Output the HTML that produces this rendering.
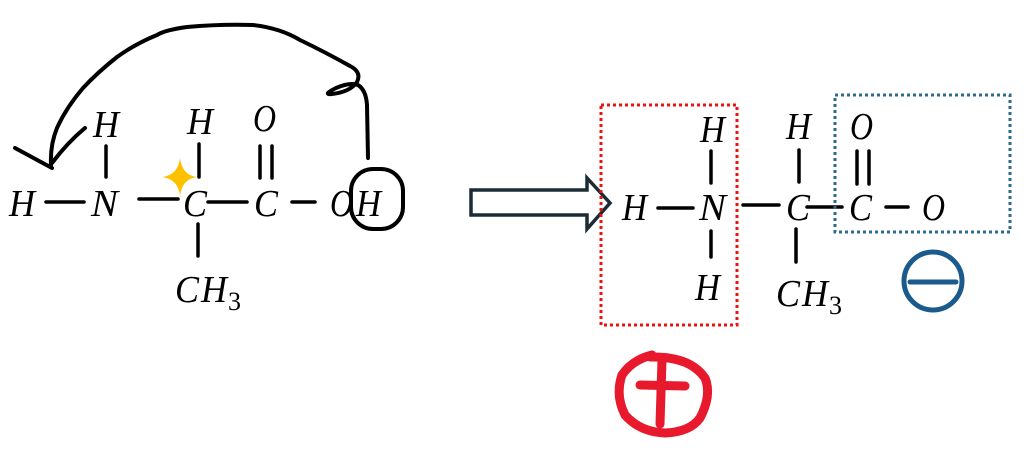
<!DOCTYPE html>
<html><head><style>
html,body{margin:0;padding:0;background:#fff;}
svg{display:block}
text{font-family:"Liberation Serif",serif;font-style:italic;font-size:38px;fill:#000}
</style></head><body>
<svg width="1024" height="451" viewBox="0 0 1024 451" xmlns="http://www.w3.org/2000/svg">
<g stroke="#000" stroke-width="3.5" fill="none" stroke-linecap="round" stroke-linejoin="round">
<line x1="46" y1="202" x2="84" y2="202"/>
<line x1="106" y1="146" x2="106" y2="177"/>
<line x1="139" y1="199" x2="178" y2="199"/>
<line x1="199" y1="144" x2="199" y2="177"/>
<line x1="208" y1="202" x2="247" y2="202"/>
<line x1="260" y1="146" x2="260" y2="178"/>
<line x1="272" y1="146" x2="272" y2="178"/>
<line x1="292" y1="202" x2="315" y2="202"/>
<line x1="198" y1="224" x2="198" y2="256"/>
<line x1="658" y1="208" x2="693" y2="208"/>
<line x1="711" y1="151" x2="711" y2="183"/>
<line x1="711" y1="231" x2="711" y2="257"/>
<line x1="743" y1="205" x2="779" y2="205"/>
<line x1="807" y1="207" x2="842" y2="207"/>
<line x1="799" y1="150" x2="799" y2="182"/>
<line x1="857" y1="151" x2="857" y2="184"/>
<line x1="869" y1="151" x2="869" y2="184"/>
<line x1="886" y1="207" x2="908" y2="207"/>
<line x1="796" y1="229" x2="796" y2="262"/>
</g>
<text x="9" y="216" textLength="26" lengthAdjust="spacingAndGlyphs">H</text>
<text x="91" y="216" textLength="27" lengthAdjust="spacingAndGlyphs">N</text>
<text x="183" y="216" textLength="24" lengthAdjust="spacingAndGlyphs">C</text>
<text x="254" y="216" textLength="24" lengthAdjust="spacingAndGlyphs">C</text>
<text x="330" y="216" textLength="23" lengthAdjust="spacingAndGlyphs">O</text>
<text x="356" y="216" textLength="25" lengthAdjust="spacingAndGlyphs">H</text>
<text x="93" y="137" textLength="26" lengthAdjust="spacingAndGlyphs">H</text>
<text x="187" y="134" textLength="26" lengthAdjust="spacingAndGlyphs">H</text>
<text x="253" y="131" textLength="23" lengthAdjust="spacingAndGlyphs">O</text>
<text x="175" y="302" textLength="24" lengthAdjust="spacingAndGlyphs">C</text><text x="201" y="302" textLength="26" lengthAdjust="spacingAndGlyphs">H</text><text x="228" y="310" style="font-size:26px;font-style:normal">3</text>
<path d="M180,158 Q182,175 197,177 Q182,179 180,196 Q178,179 162,177 Q178,175 180,158Z" fill="#ffc000"/>
<g stroke="#000" stroke-width="4" fill="none" stroke-linecap="round" stroke-linejoin="round">
<rect x="351" y="169" width="52" height="60" rx="22"/>
<path d="M368,158 L367,105 Q366,90 358,85 Q350,82 336,88 Q322,95 332,94 Q350,92 357,82 Q362,72 350,66 Q325,52 300,40 Q280,28 253,25 Q220,24 187,27 Q165,30 157,35 Q135,44 117,57 Q98,72 83,88 Q66,108 57,128 Q50,145 51,165"/>
<path d="M15,148 L52,168 M52,163 Q68,142 85,128"/>
</g>
<path d="M471,190 L587,190 L587,178 L610,203 L587,229 L587,215 L471,215Z" fill="#fff" stroke="#1c2b36" stroke-width="3.5"/>
<rect x="601" y="105" width="136" height="220" fill="none" stroke="#f01010" stroke-width="3" stroke-dasharray="3,3"/>
<rect x="835" y="95" width="175" height="137" fill="none" stroke="#2e6b8a" stroke-width="3" stroke-dasharray="3,3"/>
<text x="622" y="220" textLength="25" lengthAdjust="spacingAndGlyphs">H</text>
<text x="699" y="220" textLength="27" lengthAdjust="spacingAndGlyphs">N</text>
<text x="786" y="220" textLength="24" lengthAdjust="spacingAndGlyphs">C</text>
<text x="849" y="220" textLength="23" lengthAdjust="spacingAndGlyphs">C</text>
<text x="922" y="220" textLength="23" lengthAdjust="spacingAndGlyphs">O</text>
<text x="700" y="142" textLength="25" lengthAdjust="spacingAndGlyphs">H</text>
<text x="786" y="139" textLength="25" lengthAdjust="spacingAndGlyphs">H</text>
<text x="850" y="139" textLength="23" lengthAdjust="spacingAndGlyphs">O</text>
<text x="695" y="300" textLength="25" lengthAdjust="spacingAndGlyphs">H</text>
<text x="776" y="306" textLength="24" lengthAdjust="spacingAndGlyphs">C</text><text x="802" y="306" textLength="26" lengthAdjust="spacingAndGlyphs">H</text><text x="829" y="314" style="font-size:26px;font-style:normal">3</text>
<circle cx="933" cy="281" r="29" fill="none" stroke="#1a5a8c" stroke-width="5"/>
<line x1="910" y1="282" x2="956" y2="282" stroke="#1a5a8c" stroke-width="5" stroke-linecap="round"/>
<g stroke="#e8192c" stroke-width="9" fill="none" stroke-linecap="round" stroke-linejoin="round">
<path d="M650,357 Q690,356 705,378 Q712,395 700,418 Q690,432 665,433 Q640,432 625,415 Q615,395 622,375 Q632,360 652,355"/>
<line x1="640" y1="385" x2="685" y2="386"/>
<line x1="662" y1="360" x2="660" y2="424"/>
</g>
</svg>
</body></html>
